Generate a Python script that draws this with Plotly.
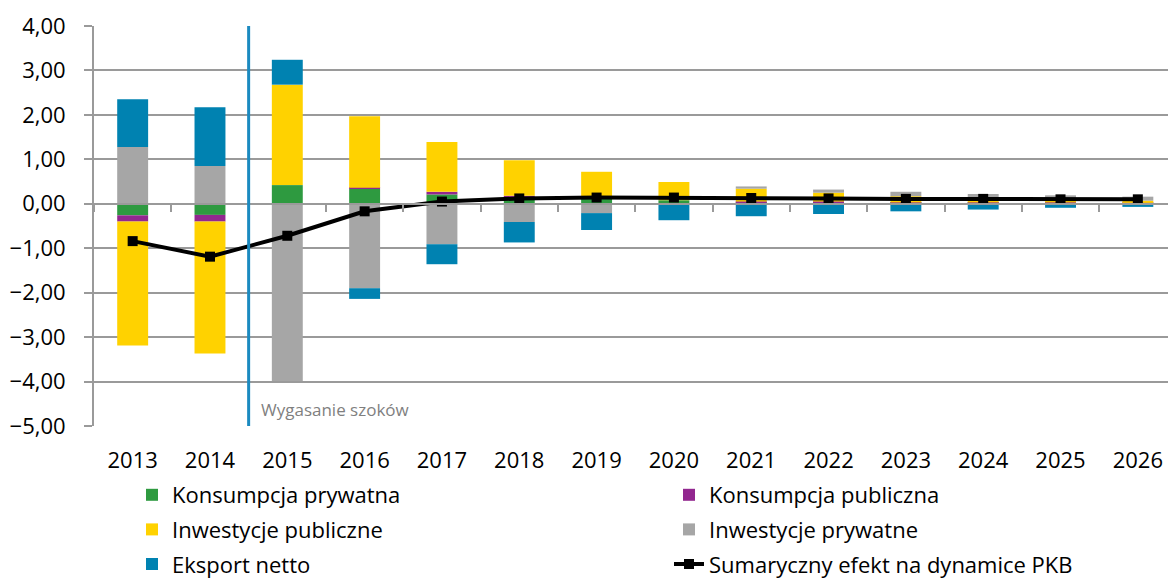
import plotly.graph_objects as go

# Lata prognozy
years = [str(y) for y in range(2013, 2027)]

# Wkłady składowych do dynamiki PKB (pkt proc.)
konsumpcja_prywatna = [-0.26, -0.25, 0.42, 0.34, 0.21, 0.15, 0.12, 0.08, 0.03, 0.02, 0.02, 0.02, 0.02, 0.01]
konsumpcja_publiczna = [-0.14, -0.15, 0.00, 0.02, 0.06, 0.03, 0.01, 0.00, 0.02, 0.03, 0.01, 0.01, 0.01, 0.01]
inwestycje_publiczne = [-2.79, -2.97, 2.26, 1.61, 1.12, 0.80, 0.59, 0.41, 0.29, 0.20, 0.14, 0.09, 0.06, 0.05]
inwestycje_prywatne = [1.28, 0.85, -3.99, -1.90, -0.91, -0.41, -0.21, -0.01, 0.05, 0.07, 0.10, 0.10, 0.10, 0.09]
eksport_netto = [1.07, 1.32, 0.56, -0.24, -0.45, -0.46, -0.38, -0.36, -0.28, -0.23, -0.17, -0.13, -0.09, -0.07]

# Łączny efekt
efekt_pkb = [-0.84, -1.19, -0.72, -0.17, 0.05, 0.12, 0.14, 0.14, 0.13, 0.12, 0.11, 0.11, 0.10, 0.10]

y_ticks = [4, 3, 2, 1, 0, -1, -2, -3, -4, -5]

FONT = "Open Sans"
GRID = "#9A9A9A"

# Obszar wykresu w pikselach
W, H = 1168, 578
PLOT_L, PLOT_T, PLOT_W, PLOT_H = 94, 26, 1074, 395
LEGEND_TOP = 474  # górna krawędź legendy (px od góry)

# (nazwa, wartości, kolor, legenda)
series = [
    ("Konsumpcja prywatna", konsumpcja_prywatna, "#2E9A40", "legend"),
    ("Konsumpcja publiczna", konsumpcja_publiczna, "#92278F", "legend2"),
    ("Inwestycje publiczne", inwestycje_publiczne, "#FFD200", "legend"),
    ("Inwestycje prywatne", inwestycje_prywatne, "#A6A6A6", "legend2"),
    ("Eksport netto", eksport_netto, "#0082B1", "legend"),
]

fig = go.Figure()
for name, vals, color, leg in series:
    fig.add_trace(go.Bar(
        x=years, y=vals, name=name, legend=leg, legendgroup=name,
        marker=dict(color=color, line=dict(width=0)),
    ))

fig.add_trace(go.Scatter(
    x=years, y=efekt_pkb, name="Sumaryczny efekt na dynamice PKB",
    legend="legend2", legendgroup="pkb",
    mode="lines+markers",
    line=dict(color="#000000", width=4),
    marker=dict(symbol="square", size=10, color="#000000"),
))

# Oś pozioma z kreskami w miejscu zera
fig.add_trace(go.Scatter(x=years, y=[None] * len(years), xaxis="x2",
                         showlegend=False, hoverinfo="skip"))

# Linia graniczna i opis okresu wygasania
fig.add_shape(type="line", xref="x", yref="paper", x0=1.5, x1=1.5, y0=0, y1=1,
              line=dict(color="#1B8AC0", width=3), layer="above")
fig.add_annotation(x=1.5, y=-4.63, xref="x", yref="y", text="Wygasanie szoków",
                   showarrow=False, xanchor="left", xshift=10,
                   font=dict(family=FONT, size=17, color="#7F7F7F"))

# Legenda w dwóch kolumnach; pozycja pionowa względem całego kontenera
legend_style = dict(
    orientation="v", xref="paper", yref="container",
    y=1 - LEGEND_TOP / H, yanchor="top", xanchor="left",
    font=dict(family=FONT, size=22), tracegroupgap=3,
    bgcolor="rgba(0,0,0,0)", traceorder="grouped",
)

# Legenda rezerwuje pas od swojej górnej krawędzi do dołu kontenera
bottom_margin = (H - PLOT_T - PLOT_H) - (H - LEGEND_TOP)

fig.update_layout(
    width=W, height=H,
    margin=dict(l=PLOT_L, r=0, t=PLOT_T, b=bottom_margin),
    paper_bgcolor="white", plot_bgcolor="white",
    barmode="relative", bargap=0.6,
    separators=", ",
    font=dict(family=FONT, size=22, color="#000000"),
    xaxis=dict(
        type="category", range=[-0.5, 13.39],
        showgrid=False, zeroline=False, showline=False,
        ticks="", ticklabelstandoff=19,
        tickfont=dict(family=FONT, size=22),
    ),
    xaxis2=dict(
        type="category", overlaying="x", matches="x", anchor="free",
        position=5 / 9, side="bottom",
        showticklabels=False, showgrid=False, zeroline=False,
        showline=True, linecolor=GRID, linewidth=2,
        ticks="outside", tickson="boundaries", ticklen=7,
        tickcolor=GRID, tickwidth=2,
    ),
    yaxis=dict(
        range=[-5, 4], tickvals=y_ticks, tickformat=".2f",
        showgrid=True, gridcolor=GRID, gridwidth=2,
        zeroline=False, showline=True, linecolor=GRID, linewidth=2,
        ticks="outside", ticklen=8, tickcolor=GRID, tickwidth=2,
        ticklabelstandoff=14,
        tickfont=dict(family=FONT, size=22),
    ),
    legend=dict(legend_style, x=(132 - PLOT_L) / PLOT_W),
    legend2=dict(legend_style, x=(669 - PLOT_L) / PLOT_W),
    showlegend=True,
)

fig.write_html("out.html")
